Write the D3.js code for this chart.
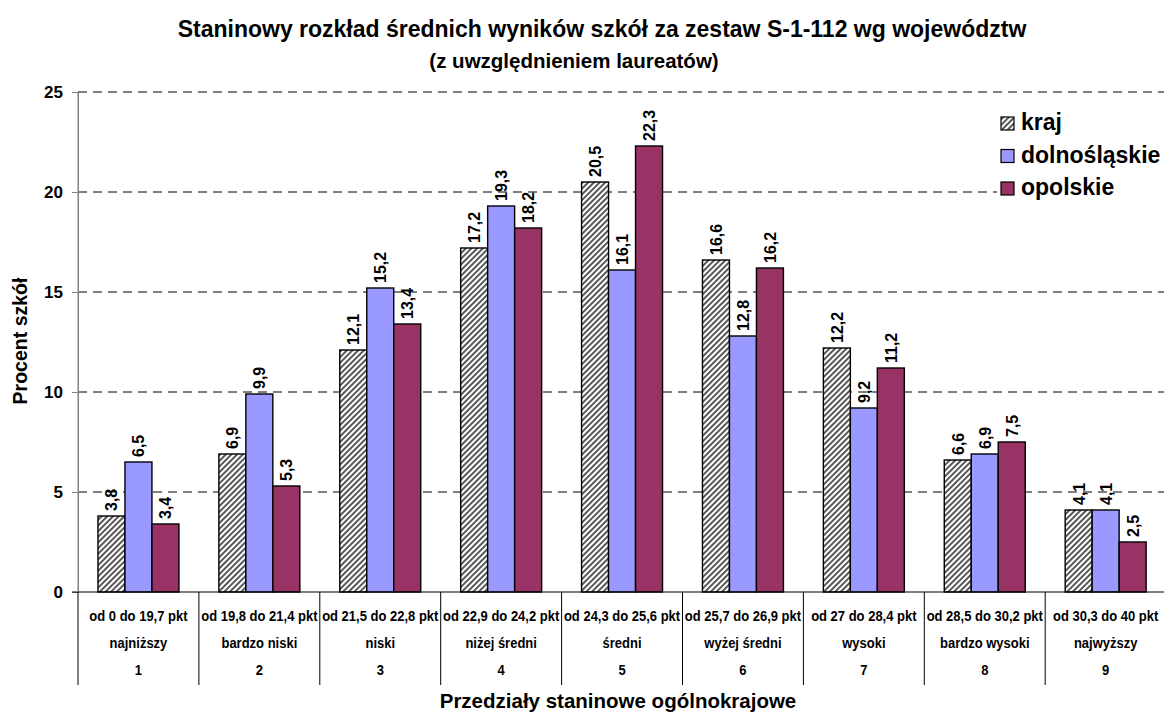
<!DOCTYPE html>
<html><head><meta charset="utf-8">
<script src="https://cdn.jsdelivr.net/npm/d3@7"></script>
<style>body{margin:0;background:#fff}svg{display:block}text{font-family:"Liberation Sans",Arial,sans-serif;font-weight:bold;fill:#000}</style>
</head><body>
<svg id="c" width="1164" height="715"></svg>
<script>
const ranges = ["od 0 do 19,7 pkt","od 19,8 do 21,4 pkt","od 21,5 do 22,8 pkt","od 22,9 do 24,2 pkt","od 24,3 do 25,6 pkt","od 25,7 do 26,9 pkt","od 27 do 28,4 pkt","od 28,5 do 30,2 pkt","od 30,3 do 40 pkt"];
const levels = ["najniższy","bardzo niski","niski","niżej średni","średni","wyżej średni","wysoki","bardzo wysoki","najwyższy"];
const stanines = ["1","2","3","4","5","6","7","8","9"];
const seriesNames = ["kraj","dolnośląskie","opolskie"];
const kraj = [3.8,6.9,12.1,17.2,20.5,16.6,12.2,6.6,4.1];
const dolnoslaskie = [6.5,9.9,15.2,19.3,16.1,12.8,9.2,6.9,4.1];
const opolskie = [3.4,5.3,13.4,18.2,22.3,16.2,11.2,7.5,2.5];
const yTicks = [0,5,10,15,20,25];

const svg = d3.select("#c");
const defs = svg.append("defs");
const pat = defs.append("pattern").attr("id","hatch").attr("patternUnits","userSpaceOnUse")
  .attr("width",4).attr("height",4).attr("patternTransform","rotate(45)");
pat.append("rect").attr("width",4).attr("height",4).attr("fill","#fff");
pat.append("line").attr("x1",1).attr("y1",0).attr("x2",1).attr("y2",4).attr("stroke","#3a3a3a").attr("stroke-width",1.7);

const fills = ["url(#hatch)","#9999FF","#993366"];
const data = [kraj,dolnoslaskie,opolskie];

const x0 = 78, x1 = 78 + 120.9*9, yTop = 92, yBot = 592;
const x = d3.scaleBand().domain(stanines).range([x0,x1]).paddingInner(0).paddingOuter(0);
const y = d3.scaleLinear().domain([0,25]).range([yBot,yTop]);
const bw = x.bandwidth();
const inner = d3.scaleBand().domain(seriesNames).range([0,bw]).paddingInner(0).paddingOuter(0.74);

// grid
svg.append("g").selectAll("line").data(yTicks.filter(d=>d>0)).join("line")
  .attr("x1",x0).attr("x2",1164).attr("y1",d=>y(d)).attr("y2",d=>y(d))
  .attr("stroke","#000").attr("stroke-dasharray","9,6").attr("stroke-width",1);

// y axis
const ya = svg.append("g").attr("transform",`translate(${x0},0)`)
  .call(d3.axisLeft(y).tickValues(yTicks).tickSize(6).tickPadding(9));
ya.select(".domain").attr("stroke","#808080");
ya.selectAll(".tick line").attr("stroke","#808080");
ya.selectAll("text").style("font-size","17px").style("font-family","Liberation Sans, Arial, sans-serif").style("font-weight","bold").attr("fill","#000");

// bars
seriesNames.forEach((s,si)=>{
  const g = svg.append("g");
  g.selectAll("rect").data(data[si]).join("rect")
    .attr("x",(d,i)=>x(stanines[i])+inner(s))
    .attr("y",d=>y(d)).attr("width",inner.bandwidth()).attr("height",d=>yBot-y(d))
    .attr("fill",fills[si]).attr("stroke","#000").attr("stroke-width",1.4);
  g.selectAll("text").data(data[si]).join("text")
    .attr("transform",(d,i)=>`translate(${x(stanines[i])+inner(s)+inner.bandwidth()/2+6},${y(d)-5}) rotate(-90)`)
    .attr("text-anchor","start").style("font-size","16px")
    .text(d=>d.toFixed(1).replace(".",","));
});

// x axis line and category separators
svg.append("line").attr("x1",x0-6).attr("x2",1164).attr("y1",yBot).attr("y2",yBot).attr("stroke","#000").attr("stroke-width",1.2);
const seps = stanines.map(s=>x(s));
svg.append("g").selectAll("line").data(seps).join("line")
  .attr("x1",d=>d).attr("x2",d=>d).attr("y1",yBot).attr("y2",685).attr("stroke","#000").attr("stroke-width",1);
svg.append("line").attr("x1",x0).attr("x2",x0).attr("y1",yTop).attr("y2",yBot).attr("stroke","#808080");

const catFont = "'Liberation Sans Narrow','Arial Narrow',sans-serif";
[[ranges,621],[levels,648],[stanines,675]].forEach(([arr,yy])=>{
  svg.append("g").selectAll("text").data(arr).join("text")
    .attr("transform",(d,i)=>`translate(${x(stanines[i])+bw/2},${yy}) scale(1,1.15)`)
    .attr("text-anchor","middle")
    .style("font-family",catFont).style("font-size","13px").text(d=>d);
});

// titles
svg.append("text").attr("x",602).attr("y",37).attr("text-anchor","middle").style("font-size","23px").text("Staninowy rozkład średnich wyników szkół za zestaw S-1-112 wg województw");
svg.append("text").attr("x",574).attr("y",68).attr("text-anchor","middle").style("font-size","20.5px").text("(z uwzględnieniem laureatów)");
svg.append("text").attr("x",618).attr("y",708).attr("text-anchor","middle").style("font-size","20.5px").text("Przedziały staninowe ogólnokrajowe");
svg.append("text").attr("transform","translate(27,341) rotate(-90)").attr("text-anchor","middle").style("font-size","19.5px").text("Procent szkół");

// legend
const lg = svg.append("g").attr("transform","translate(997,105)");
lg.append("rect").attr("width",167).attr("height",95).attr("fill","#fff");
seriesNames.forEach((s,i)=>{
  const base = 25 + i*32.5;
  lg.append("rect").attr("x",4).attr("y",base-13).attr("width",13).attr("height",13).attr("fill",fills[i]).attr("stroke","#000").attr("stroke-width",1.2);
  lg.append("text").attr("x",24).attr("y",base).style("font-size","23px").text(s);
});
</script>
</body></html>
